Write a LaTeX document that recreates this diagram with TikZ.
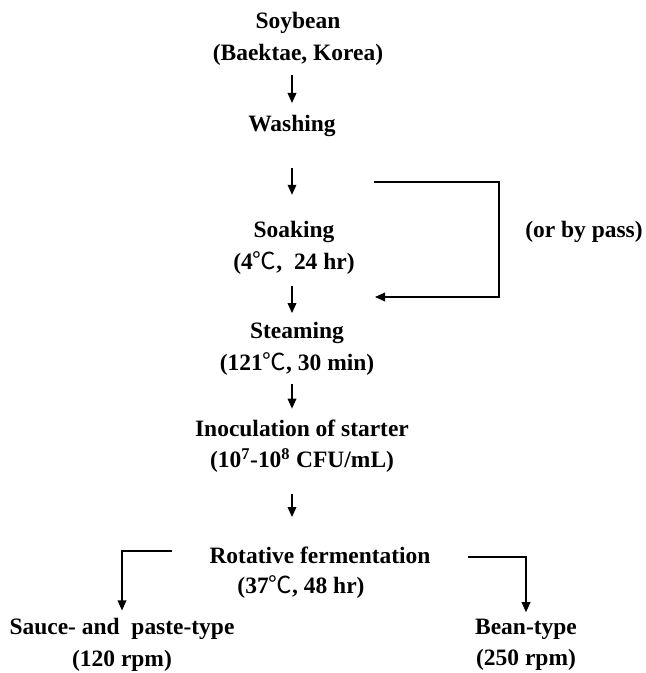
\documentclass[tikz,border=0pt]{standalone}
\usepackage{fontspec}
\setmainfont{Liberation Serif}
\newfontfamily\cjk{Noto Sans CJK SC}
\usepackage{tikz}
\usetikzlibrary{arrows.meta,positioning,calc}
\newcommand{\degC}{{\cjk\mdseries ℃}}
\tikzset{
  stage/.style={font={\fontsize{17.6}{23.5}\selectfont\bfseries}, align=center, inner sep=0pt},
  flow/.style={-{Triangle[length=7.5pt,width=6.5pt]}, line width=1pt}
}

\begin{document}
\begin{tikzpicture}[x=0.75pt,y=-0.75pt]
    \useasboundingbox (0,0) rectangle (645,673);

    \node[stage] (soy) at (298,39) {Soybean\\(Baektae, Korea)};
    \node[stage] (wash) at (292,126) {Washing};
    \node[stage] (soak) at (294,248) {Soaking\\(4\degC, \ 24 hr)};
    \node[stage] (steam) at (297,349) {Steaming\\(121\degC, 30 min)};
    \node[stage] (inoc) at (302,446) {Inoculation of starter\\(10\textsuperscript{7}-10\textsuperscript{8} CFU/mL)};
    \node[stage] (ferm) at (320,555) {Rotative fermentation};
    \node[stage] (cond) at (301,587) {(37\degC, 48 hr)};
    \node[stage] (sauce) at (122,645) {Sauce- and \ paste-type\\(120 rpm)};
    \node[stage] (bean) at (526,645) {Bean-type\\(250 rpm)};
    \node[stage] (bynote) at (584,232) {(or by pass)};

    \draw[flow, shorten <=7pt, shorten >=9pt] (wash |- soy.south) -- (wash.north);
    \draw[flow, shorten <=23pt, shorten >=20pt] (wash.south) -- (wash.south |- soak.north);
    \draw[flow, shorten <=8.5pt, shorten >=7pt] (wash |- soak.south) -- (wash |- steam.north);
    \draw[flow, shorten <=6pt, shorten >=8pt] (wash |- steam.south) -- (wash |- inoc.north);
    \draw[flow, shorten <=16pt, shorten >=22pt] (wash |- inoc.south) -- (wash |- ferm.north);

    % bypass around soaking
    \coordinate (bpout) at (374,182);
    \coordinate (bpin) at (375,297);
    \draw[flow] (bpout) -- ++(125,0) |- (bpin);

    % split after fermentation
    \draw[flow, shorten <=28pt, shorten >=6pt] ([yshift=3pt]ferm.west) -| (sauce.north);
    \draw[flow, shorten <=28pt, shorten >=5pt] ([yshift=-1.5pt]ferm.east) -| (bean.north);
\end{tikzpicture}
\end{document}
